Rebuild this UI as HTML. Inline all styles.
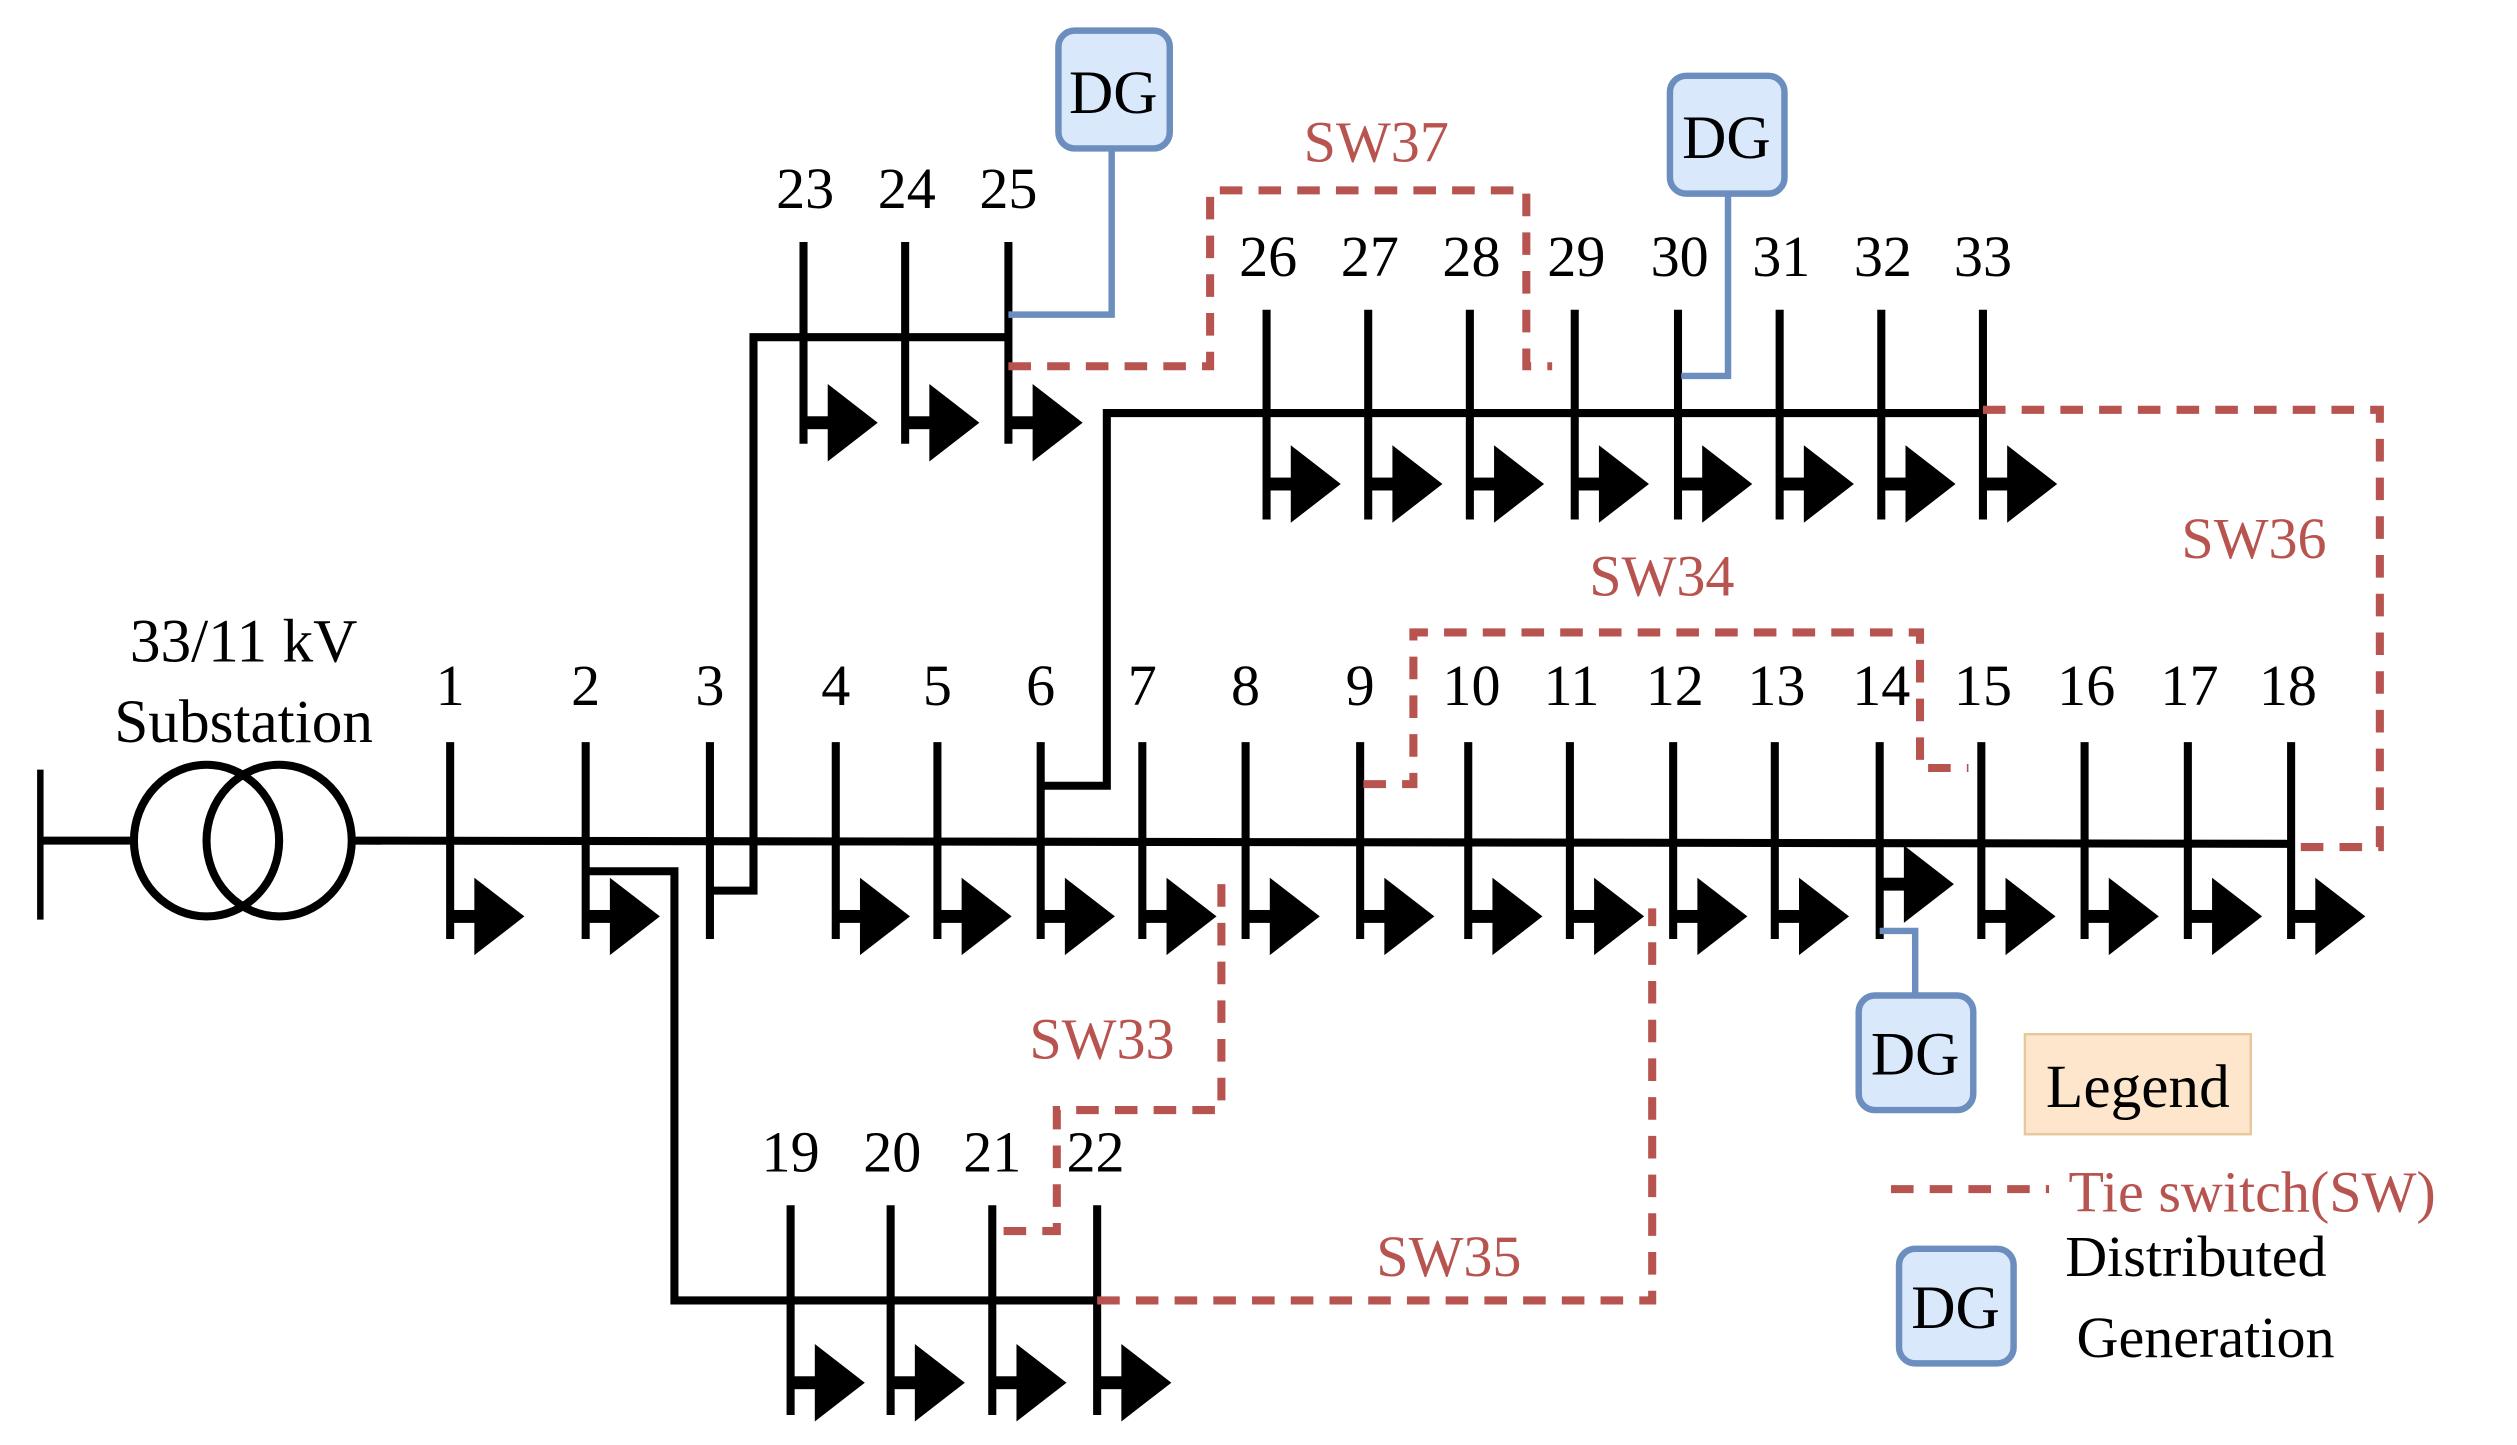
<!DOCTYPE html>
<html><head><meta charset="utf-8"><style>
html,body{margin:0;padding:0;background:#fff;}
svg{display:block;}
text{font-family:"Liberation Serif",serif;}
</style></head><body>
<svg width="2517" height="1445" viewBox="0 0 1560 895.6" preserveAspectRatio="none" xmlns="http://www.w3.org/2000/svg">
<defs>
<g id="ld"><rect x="0" y="-4" width="18" height="8" fill="#000"/><polygon points="15,-24 46,0 15,24" fill="#000"/></g>
</defs>
<!-- substation -->
<line x1="25" y1="477" x2="25" y2="570" stroke="#000" stroke-width="4"/>
<line x1="25" y1="521" x2="83" y2="521" stroke="#000" stroke-width="5"/>
<ellipse cx="128" cy="521" rx="45" ry="47" fill="none" stroke="#000" stroke-width="5"/>
<ellipse cx="173" cy="521" rx="45" ry="47" fill="none" stroke="#000" stroke-width="5"/>
<text x="151" y="410" font-size="38" text-anchor="middle">33/11 kV</text>
<text x="151" y="460" font-size="38" text-anchor="middle">Substation</text>
<!-- main feeder -->
<g stroke="#000" stroke-width="5" fill="none">
<line x1="218" y1="521" x2="1420" y2="523"/>
<polyline points="363,540 418,540 418,806 680,806"/>
<polyline points="440,552 467,552 467,209 625,209"/>
<polyline points="645,487 686,487 686,256 1229,256"/>
<g stroke-width="5">
<line x1="279" y1="460" x2="279" y2="582"/><line x1="363" y1="460" x2="363" y2="582"/><line x1="440" y1="460" x2="440" y2="582"/>
<line x1="518" y1="460" x2="518" y2="582"/><line x1="581" y1="460" x2="581" y2="582"/><line x1="645" y1="460" x2="645" y2="582"/>
<line x1="708" y1="460" x2="708" y2="582"/><line x1="772" y1="460" x2="772" y2="582"/><line x1="843" y1="460" x2="843" y2="582"/>
<line x1="910" y1="460" x2="910" y2="582"/><line x1="973" y1="460" x2="973" y2="582"/><line x1="1037" y1="460" x2="1037" y2="582"/>
<line x1="1100" y1="460" x2="1100" y2="582"/><line x1="1165" y1="460" x2="1165" y2="582"/><line x1="1228" y1="460" x2="1228" y2="582"/>
<line x1="1292" y1="460" x2="1292" y2="582"/><line x1="1356" y1="460" x2="1356" y2="582"/><line x1="1420" y1="460" x2="1420" y2="582"/>
<line x1="498" y1="150" x2="498" y2="275"/><line x1="561" y1="150" x2="561" y2="275"/><line x1="625" y1="150" x2="625" y2="275"/>
<line x1="785" y1="192" x2="785" y2="322"/><line x1="848" y1="192" x2="848" y2="322"/><line x1="911" y1="192" x2="911" y2="322"/>
<line x1="976" y1="192" x2="976" y2="322"/><line x1="1040" y1="192" x2="1040" y2="322"/><line x1="1103" y1="192" x2="1103" y2="322"/>
<line x1="1166" y1="192" x2="1166" y2="322"/><line x1="1229" y1="192" x2="1229" y2="322"/>
<line x1="490" y1="747" x2="490" y2="877"/><line x1="552" y1="747" x2="552" y2="877"/><line x1="615" y1="747" x2="615" y2="877"/><line x1="680" y1="747" x2="680" y2="877"/>
</g></g>
<!-- loads -->
<use href="#ld" x="279" y="568"/><use href="#ld" x="363" y="568"/><use href="#ld" x="518" y="568"/><use href="#ld" x="581" y="568"/>
<use href="#ld" x="645" y="568"/><use href="#ld" x="708" y="568"/><use href="#ld" x="772" y="568"/><use href="#ld" x="843" y="568"/>
<use href="#ld" x="910" y="568"/><use href="#ld" x="973" y="568"/><use href="#ld" x="1037" y="568"/><use href="#ld" x="1100" y="568"/>
<use href="#ld" x="1165" y="548"/><use href="#ld" x="1228" y="568"/><use href="#ld" x="1292" y="568"/><use href="#ld" x="1356" y="568"/><use href="#ld" x="1420" y="568"/>
<use href="#ld" x="498" y="262"/><use href="#ld" x="561" y="262"/><use href="#ld" x="625" y="262"/>
<use href="#ld" x="785" y="300"/><use href="#ld" x="848" y="300"/><use href="#ld" x="911" y="300"/><use href="#ld" x="976" y="300"/>
<use href="#ld" x="1040" y="300"/><use href="#ld" x="1103" y="300"/><use href="#ld" x="1166" y="300"/><use href="#ld" x="1229" y="300"/>
<use href="#ld" x="490" y="857"/><use href="#ld" x="552" y="857"/><use href="#ld" x="615" y="857"/><use href="#ld" x="680" y="857"/>
<!-- labels -->
<g font-size="36" text-anchor="middle">
<text x="279" y="437">1</text><text x="363" y="437">2</text><text x="440" y="437">3</text><text x="518" y="437">4</text>
<text x="581" y="437">5</text><text x="645" y="437">6</text><text x="708" y="437">7</text><text x="772" y="437">8</text>
<text x="843" y="437">9</text><text x="912" y="437">10</text><text x="974" y="437">11</text><text x="1038" y="437">12</text>
<text x="1101" y="437">13</text><text x="1166" y="437">14</text><text x="1229" y="437">15</text><text x="1293" y="437">16</text>
<text x="1357" y="437">17</text><text x="1418" y="437">18</text>
<text x="499" y="129">23</text><text x="562" y="129">24</text><text x="625" y="129">25</text>
<text x="786" y="171">26</text><text x="849" y="171">27</text><text x="912" y="171">28</text><text x="977" y="171">29</text>
<text x="1041" y="171">30</text><text x="1104" y="171">31</text><text x="1167" y="171">32</text><text x="1229" y="171">33</text>
<text x="490" y="726">19</text><text x="553" y="726">20</text><text x="615" y="726">21</text><text x="679" y="726">22</text>
</g>
<!-- tie switches -->
<g stroke="#b85450" stroke-width="5" fill="none" stroke-dasharray="14,10">
<polyline points="625,227 750,227 750,118 946,118 946,227 962,227"/>
<polyline points="1229,254 1475,254 1475,525 1420,525"/>
<polyline points="845,486 876,486 876,392 1190,392 1190,476 1220,476"/>
<polyline points="757,548 757,688 655,688 655,763 617,763"/>
<polyline points="680,806 1024,806 1024,563"/>
<line x1="1172" y1="737" x2="1270" y2="737"/>
</g>
<g fill="#b85450" font-size="36" text-anchor="middle">
<text x="853" y="100">SW37</text><text x="1397" y="346">SW36</text><text x="1030" y="369">SW34</text>
<text x="683" y="656">SW33</text><text x="898" y="791">SW35</text>
</g>
<!-- DG -->
<g stroke="#6c8ebf" stroke-width="4" fill="none">
<polyline points="689,92 689,195 625,195"/>
<polyline points="1071,120 1071,233 1042,233"/>
<polyline points="1187,617 1187,577 1165,577"/>
</g>
<g fill="#dae8fc" stroke="#6c8ebf" stroke-width="4">
<rect x="656" y="19" width="69" height="73" rx="10"/>
<rect x="1035" y="47" width="71" height="73" rx="10"/>
<rect x="1152" y="617" width="71" height="71" rx="10"/>
<rect x="1177" y="774" width="71" height="71" rx="10"/>
</g>
<g font-size="38" text-anchor="middle">
<text x="690" y="70">DG</text><text x="1070" y="98">DG</text><text x="1187" y="666">DG</text><text x="1212" y="823">DG</text>
</g>
<!-- legend -->
<rect x="1255" y="641" width="140" height="62" fill="#fde6cc" stroke="#e8c89a" stroke-width="1.5"/>
<text x="1325" y="686" font-size="38" text-anchor="middle">Legend</text>
<text x="1282" y="751" font-size="36" fill="#b85450">Tie switch(SW)</text>
<text x="1280" y="791" font-size="36">Distributed</text>
<text x="1287" y="841" font-size="36">Generation</text>
</svg>
</body></html>
